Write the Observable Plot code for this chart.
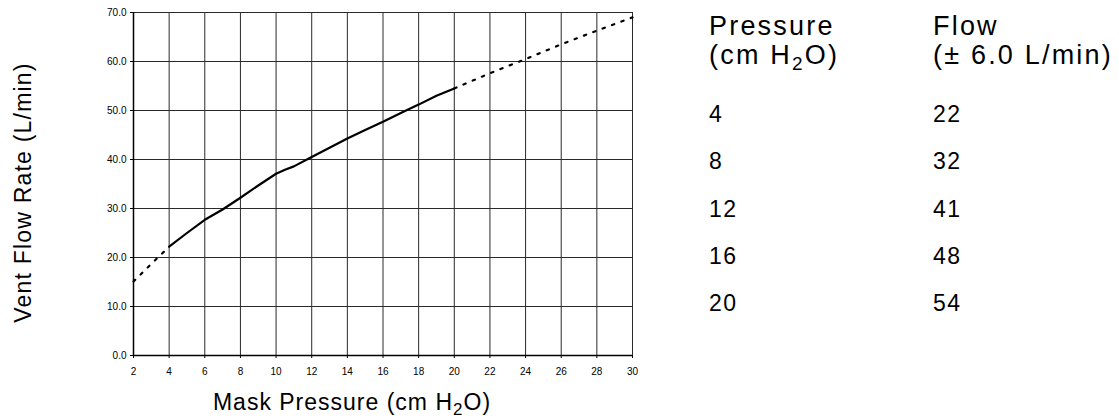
<!DOCTYPE html>
<html>
<head>
<meta charset="utf-8">
<script src="https://cdn.jsdelivr.net/npm/d3@7"></script>
<script src="https://cdn.jsdelivr.net/npm/@observablehq/plot@0.6"></script>
<style>
  html, body { margin: 0; padding: 0; background: #fff; }
  #chart { width: 1119px; height: 420px; }
  text { font-family: "Liberation Sans", Arial, sans-serif; }
</style>
</head>
<body>
<div id="chart"></div>
<script>
// ---- data ----
const xTicks = [2, 4, 6, 8, 10, 12, 14, 16, 18, 20, 22, 24, 26, 28, 30];
const yTicks = [0, 10, 20, 30, 40, 50, 60, 70];

// measured curve (solid)
const pressure = [4, 5, 6, 7, 8, 9, 10, 10.5, 11, 12, 13, 14, 15, 16, 17, 18, 19, 20];
const flow = [22.2, 25.0, 27.7, 29.8, 32.2, 34.7, 37.1, 37.9, 38.6, 40.5, 42.4, 44.3, 46.0, 47.7, 49.5, 51.2, 53.0, 54.5];

// extrapolated (dotted)
const extLowP = [2, 3, 4];
const extLowF = [15.1, 18.7, 22.2];
const extHighP = [20, 22, 24, 26, 28, 30];
const extHighF = [54.5, 57.6, 60.5, 63.5, 66.3, 69.0];

// table
const tablePressure = [4, 8, 12, 16, 20];
const tableFlow = [22, 32, 41, 48, 54];

const xLabel = ["Mask Pressure (cm H", "2", "O)"];
const yLabel = "Vent Flow Rate (L/min)";
const head1 = ["Pressure", "(cm H", "2", "O)"];
const head2 = ["Flow", "(\u00B1 6.0 L/min)"];

// ---- build ----
const solid = pressure.map((p, i) => ({p, f: flow[i]}));
const low = extLowP.map((p, i) => ({p, f: extLowF[i]}));
const high = extHighP.map((p, i) => ({p, f: extHighF[i]}));

const W = 1119, H = 420;
const chart = Plot.plot({
  width: W,
  height: H,
  marginLeft: 133,
  marginRight: W - 632,
  marginTop: 12,
  marginBottom: 65,
  style: {fontFamily: "Liberation Sans, Arial, sans-serif", fontSize: "10px", background: "#fff", color: "#000"},
  x: {domain: [2, 30]},
  y: {domain: [0, 70]},
  marks: [
    Plot.gridX(xTicks, {stroke: "#2a2a2a", strokeOpacity: 1, strokeWidth: 1}),
    Plot.gridY(yTicks, {stroke: "#2a2a2a", strokeOpacity: 1, strokeWidth: 1}),
    Plot.axisX({ticks: xTicks, tickSize: 3, tickPadding: 9, label: null, fontSize: 10}),
    Plot.axisY({ticks: yTicks, tickSize: 3, tickPadding: 4, tickFormat: d3.format(".1f"), label: null, fontSize: 10}),
    Plot.ruleX([2], {stroke: "#000", strokeWidth: 1.5}),
    Plot.ruleY([0], {stroke: "#000", strokeWidth: 1.5}),
    Plot.line(low, {x: "p", y: "f", stroke: "#000", strokeWidth: 2.2, strokeDasharray: "2.4,7.6"}),
    Plot.line(high, {x: "p", y: "f", stroke: "#000", strokeWidth: 2.2, strokeDasharray: "2.4,7.6"}),
    Plot.line(solid, {x: "p", y: "f", stroke: "#000", strokeWidth: 2.2})
  ]
});
document.getElementById("chart").appendChild(chart);

const svg = d3.select(chart);
const ff = "Liberation Sans, Arial, sans-serif";

// y title
svg.append("text")
  .attr("transform", "translate(31,192.5) rotate(-90)")
  .attr("text-anchor", "middle")
  .attr("font-family", ff).attr("font-size", 23).attr("letter-spacing", 1.2)
  .attr("fill", "#000")
  .text(yLabel);

// x title with subscript
const xt = svg.append("text")
  .attr("x", 352).attr("y", 410)
  .attr("text-anchor", "middle")
  .attr("font-family", ff).attr("font-size", 23).attr("letter-spacing", 1.0)
  .attr("fill", "#000");
xt.append("tspan").text(xLabel[0]);
xt.append("tspan").attr("font-size", 17).attr("dy", 5).text(xLabel[1]);
xt.append("tspan").attr("dy", -5).text(xLabel[2]);

// table headers (two lines in one text element each)
const c1 = 709, c2 = 933;
const h1 = svg.append("text").attr("x", c1).attr("y", 34.5).attr("text-anchor", "start")
  .attr("font-family", ff).attr("font-size", 27).attr("letter-spacing", 2.2).attr("fill", "#000");
h1.append("tspan").attr("x", c1).text(head1[0]);
h1.append("tspan").attr("x", c1).attr("dy", 29).text(head1[1]);
h1.append("tspan").attr("font-size", 19).attr("dy", 6).text(head1[2]);
h1.append("tspan").attr("dy", -6).text(head1[3]);

const h2 = svg.append("text").attr("x", c2).attr("y", 34.5).attr("text-anchor", "start")
  .attr("font-family", ff).attr("font-size", 27).attr("letter-spacing", 2.2).attr("fill", "#000");
h2.append("tspan").attr("x", c2).text(head2[0]);
h2.append("tspan").attr("x", c2).attr("dy", 29).text(head2[1]);

// table rows
const rowY = [122, 169, 216.5, 264, 311];
tablePressure.forEach((p, i) => {
  svg.append("text").attr("x", c1).attr("y", rowY[i]).attr("text-anchor", "start")
    .attr("font-family", ff).attr("font-size", 23).attr("letter-spacing", 1.5)
    .attr("fill", "#000").text(String(p));
  svg.append("text").attr("x", c2).attr("y", rowY[i]).attr("text-anchor", "start")
    .attr("font-family", ff).attr("font-size", 23).attr("letter-spacing", 1.5)
    .attr("fill", "#000").text(String(tableFlow[i]));
});
</script>
</body>
</html>
